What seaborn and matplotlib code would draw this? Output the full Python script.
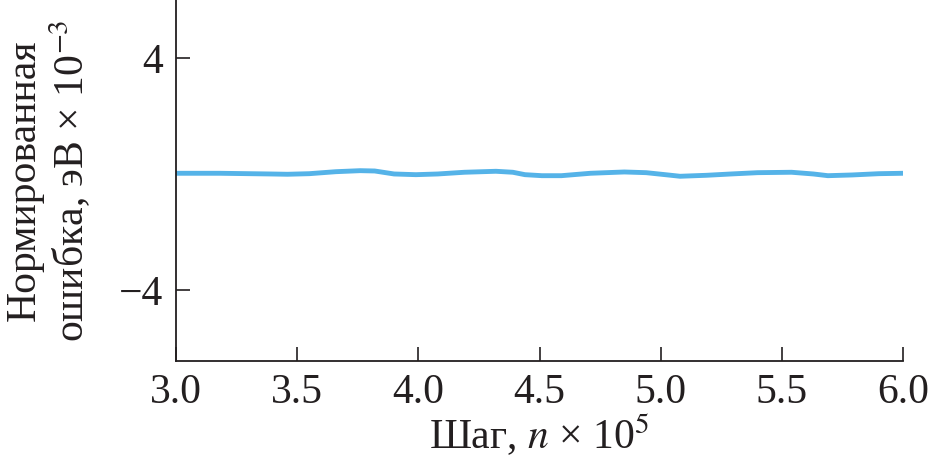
import matplotlib
matplotlib.use("Agg")
from matplotlib import pyplot as plt
import seaborn as sns
import pandas as pd

# values
step = [3.00, 3.02, 3.18, 3.39, 3.46, 3.55, 3.66, 3.76, 3.82, 3.90, 3.99,
        4.08, 4.19, 4.32, 4.39, 4.44, 4.51, 4.59, 4.71, 4.85, 4.94, 5.03,
        5.08, 5.19, 5.29, 5.40, 5.54, 5.63, 5.69, 5.79, 5.90, 6.00]
error = [0.024, 0.024, 0.024, 0.0, -0.010, 0.010, 0.079, 0.114, 0.103, 0.0, -0.024,
         0.0, 0.059, 0.093, 0.059, -0.024, -0.059, -0.059, 0.024, 0.069, 0.045, -0.034,
         -0.079, -0.045, 0.0, 0.045, 0.059, 0.0, -0.059, -0.034, 0.010, 0.024]
xticks = [3.0, 3.5, 4.0, 4.5, 5.0, 5.5, 6.0]
yticks = [4, -4]

df = pd.DataFrame({"Шаг": step, "Ошибка": error})

sns.set_style("ticks")
plt.rcParams['font.family'] = ['Liberation Serif', 'DejaVu Serif']
plt.rcParams['mathtext.fontset'] = 'stix'
plt.rcParams['axes.unicode_minus'] = True

fig = plt.figure(figsize=(9.29, 4.70), dpi=100)
ax = fig.add_axes([176 / 929, 1 - 361 / 470, (903 - 176) / 929, 361 / 470])
sns.lineplot(x="Шаг", y="Ошибка", data=df, ax=ax, color="#55b3e8", linewidth=3.5)

ax.set_xlim(3.0, 6.0)
ax.set_ylim(-6.45, 6.0)
ax.set_xticks(xticks)
ax.set_xticklabels(["%.1f" % t for t in xticks])
ax.set_yticks(yticks)
ax.set_yticklabels(["4", "\u22124"])
ax.tick_params(direction="in", length=10, width=1.2, labelsize=30, pad=9, colors="#231f20")
for s in ["top", "right"]:
    ax.spines[s].set_visible(False)
for s in ["left", "bottom"]:
    ax.spines[s].set_linewidth(1.3)
    ax.spines[s].set_color("#231f20")

ax.set_xlabel(r"Шаг, $n$ × 10$^5$", fontsize=30, color="#231f20", labelpad=0)
ax.set_ylabel("Нормированная\nошибка, эВ × 10$^{-3}$", fontsize=30, color="#231f20",
              labelpad=19, linespacing=1.1)

fig.savefig("out.png", dpi=100)
